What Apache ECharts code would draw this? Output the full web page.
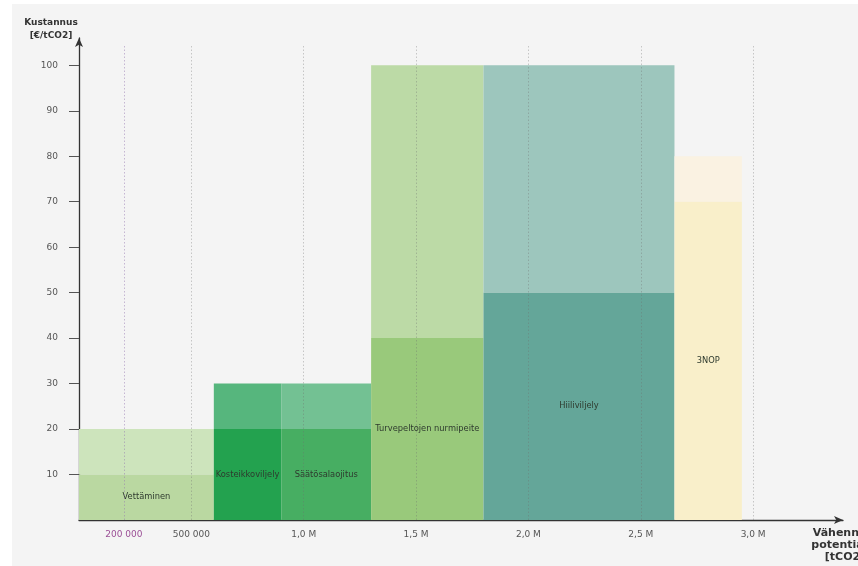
<!DOCTYPE html>
<html>
<head>
<meta charset="utf-8">
<script src="https://cdn.jsdelivr.net/npm/echarts@6/dist/echarts.min.js"></script>
<style>
  html, body { margin: 0; padding: 0; background: #ffffff; }
  #chart { position: absolute; left: 12px; top: 4px; width: 846px; height: 562px; background: #f4f4f4; }
</style>
</head>
<body>
<div id="chart"></div>
<script>
// Marginal abatement cost curve: each measure is a block whose width is its
// reduction potential (tCO2) and whose height spans a low/high cost estimate.
const measures = ['Vettäminen', 'Kosteikkoviljely', 'Säätösalaojitus', 'Turvepeltojen nurmipeite', 'Hiiliviljely', '3NOP'];
const potentialStart = [0, 600000, 900000, 1300000, 1800000, 2650000];
const potentialEnd = [600000, 900000, 1300000, 1800000, 2650000, 2950000];
const costLow = [10, 20, 20, 40, 50, 70];
const costHigh = [20, 30, 30, 100, 100, 80];

const xTickValues = [200000, 500000, 1000000, 1500000, 2000000, 2500000, 3000000];
const xTickLabels = ['200 000', '500 000', '1,0 M', '1,5 M', '2,0 M', '2,5 M', '3,0 M'];
const yTickValues = [10, 20, 30, 40, 50, 60, 70, 80, 90, 100];

// Fill colours: darker shade for the low-cost part, lighter for the range up to the high cost
const lowColors = ['#bad8a1', '#23a24f', '#47ae62', '#99c97b', '#64a699', '#f9efca'];
const highColors = ['#cde4bc', '#56b67d', '#73c193', '#bcdaa6', '#9dc6bd', '#faf2e2'];

const FONT = 'DejaVu Sans';

function renderBlock(params, api) {
  const i = params.dataIndex;
  const x0 = api.value(0), x1 = api.value(1), lo = api.value(2), hi = api.value(3);
  const base = api.coord([x1, 0]);
  const loTop = api.coord([x0, lo]);
  const hiTop = api.coord([x0, hi]);
  const w = base[0] - loTop[0];
  return {
    type: 'group',
    children: [
      { type: 'rect', shape: { x: hiTop[0], y: hiTop[1], width: w, height: loTop[1] - hiTop[1] }, style: { fill: highColors[i] } },
      { type: 'rect', shape: { x: loTop[0], y: loTop[1], width: w, height: base[1] - loTop[1] }, style: { fill: lowColors[i] } },
      {
        type: 'text',
        x: loTop[0] + w / 2,
        y: (loTop[1] + base[1]) / 2,
        style: { text: measures[i], align: 'center', verticalAlign: 'middle', fill: '#2e3a2e', font: '8.3px "' + FONT + '"' }
      }
    ]
  };
}

const blockData = measures.map((m, i) => [potentialStart[i], potentialEnd[i], costLow[i], costHigh[i]]);

const chart = echarts.init(document.getElementById('chart'), null, { renderer: 'canvas' });
chart.setOption({
  backgroundColor: '#f4f4f4',
  animation: false,
  textStyle: { fontFamily: FONT },
  grid: { left: 67, right: 15, top: 34, bottom: 46, containLabel: false, outerBoundsMode: 'none' },
  xAxis: {
    type: 'value',
    min: 0,
    max: 3400000,
    name: 'Vähennys-\npotentiaali\n[tCO2]',
    nameLocation: 'end',
    nameGap: 2,
    nameTextStyle: { fontFamily: FONT, fontWeight: 'bold', fontSize: 11, color: '#333', align: 'center', verticalAlign: 'top', lineHeight: 12, padding: [7, 0, 0, 0] },
    axisLine: { show: true, lineStyle: { color: '#333', width: 1.3 }, symbol: ['none', 'arrow'], symbolSize: [6, 9] },
    axisTick: { show: false },
    splitLine: { show: false },
    axisLabel: {
      customValues: xTickValues,
      margin: 10,
      fontSize: 9,
      color: '#555',
      formatter: function (v) {
        const idx = xTickValues.indexOf(v);
        const txt = idx >= 0 ? xTickLabels[idx] : '';
        return idx === 0 ? '{hl|' + txt + '}' : txt;
      },
      rich: { hl: { color: '#9b4f96', fontSize: 9, fontFamily: FONT } }
    }
  },
  yAxis: {
    type: 'value',
    min: 0,
    max: 106,
    name: 'Kustannus\n[€/tCO2]',
    nameLocation: 'end',
    nameGap: -4,
    nameTextStyle: { fontFamily: FONT, fontWeight: 'bold', fontSize: 9, color: '#333', align: 'center', verticalAlign: 'bottom', lineHeight: 13, padding: [0, 56, 0, 0] },
    axisLine: { show: true, lineStyle: { color: '#333', width: 1.3 }, symbol: ['none', 'arrow'], symbolSize: [6, 9] },
    axisTick: { show: true, customValues: yTickValues, inside: false, length: 10, lineStyle: { color: '#555', width: 1 } },
    splitLine: { show: false },
    axisLabel: { customValues: yTickValues, margin: 21, fontSize: 9, color: '#555' }
  },
  series: [
    {
      type: 'custom',
      renderItem: renderBlock,
      data: blockData,
      encode: { x: [0, 1], y: [2, 3] },
      z: 2,
      silent: true
    },
    {
      // dotted reference lines at the potential ticks, drawn over the blocks
      type: 'line',
      data: [],
      z: 5,
      silent: true,
      markLine: {
        silent: true,
        symbol: ['none', 'none'],
        label: { show: false },
        animation: false,
        data: xTickValues.map((v, i) => [
          { coord: [v, 0], lineStyle: { color: i === 0 ? 'rgba(150,120,175,0.5)' : 'rgba(110,110,110,0.35)', type: [1.5, 2], width: 1 } },
          { coord: [v, 104.5] }
        ])
      }
    }
  ]
});
</script>
</body>
</html>
